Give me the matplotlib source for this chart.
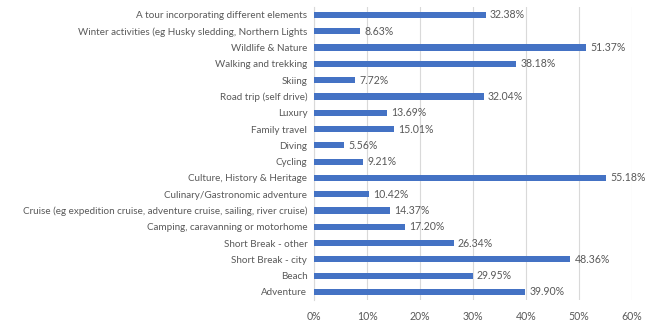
import matplotlib
matplotlib.use("Agg")
import matplotlib.pyplot as plt
from matplotlib.ticker import FuncFormatter

categories = [
    "A tour incorporating different elements",
    "Winter activities (eg Husky sledding, Northern Lights",
    "Wildlife & Nature",
    "Walking and trekking",
    "Skiing",
    "Road trip (self drive)",
    "Luxury",
    "Family travel",
    "Diving",
    "Cycling",
    "Culture, History & Heritage",
    "Culinary/Gastronomic adventure",
    "Cruise (eg expedition cruise, adventure cruise, sailing, river cruise)",
    "Camping, caravanning or motorhome",
    "Short Break - other",
    "Short Break - city",
    "Beach",
    "Adventure",
]
values = [32.38, 8.63, 51.37, 38.18, 7.72, 32.04, 13.69, 15.01, 5.56, 9.21,
          55.18, 10.42, 14.37, 17.20, 26.34, 48.36, 29.95, 39.90]
xticks = [0, 10, 20, 30, 40, 50, 60]

plt.rcParams['font.family'] = ['Lato', 'DejaVu Sans']
fs = 7.6
txt = "#595959"
fig = plt.figure(figsize=(6.5, 3.25), dpi=100)
ax = fig.add_axes([0.4835, 0.0765, 0.4885, 0.9025])
n = len(categories)
ypos = list(range(n))[::-1]
ax.barh(ypos, values, height=0.38, color="#4472C4", zorder=3)
for y, v in zip(ypos, values):
    ax.text(v + 0.8, y, f"{v:.2f}%", va="center", ha="left", fontsize=fs, color=txt)
ax.set_yticks(ypos)
ax.set_yticklabels(categories, fontsize=7.1, color=txt)
ax.set_ylim(-0.5, n - 0.5)
ax.set_xlim(0, 60)
ax.set_xticks(xticks)
ax.xaxis.set_major_formatter(FuncFormatter(lambda x, p: f"{x:.0f}%"))
ax.tick_params(axis='x', labelsize=fs, colors=txt, length=0, pad=8)
ax.tick_params(axis='y', length=0, pad=5)
ax.grid(axis='x', color="#D9D9D9", linewidth=0.8, zorder=0)
for s in ["top", "right", "bottom"]:
    ax.spines[s].set_visible(False)
ax.spines["left"].set_color("#D9D9D9")
ax.spines["left"].set_linewidth(0.8)
fig.savefig("out.png", dpi=100)
